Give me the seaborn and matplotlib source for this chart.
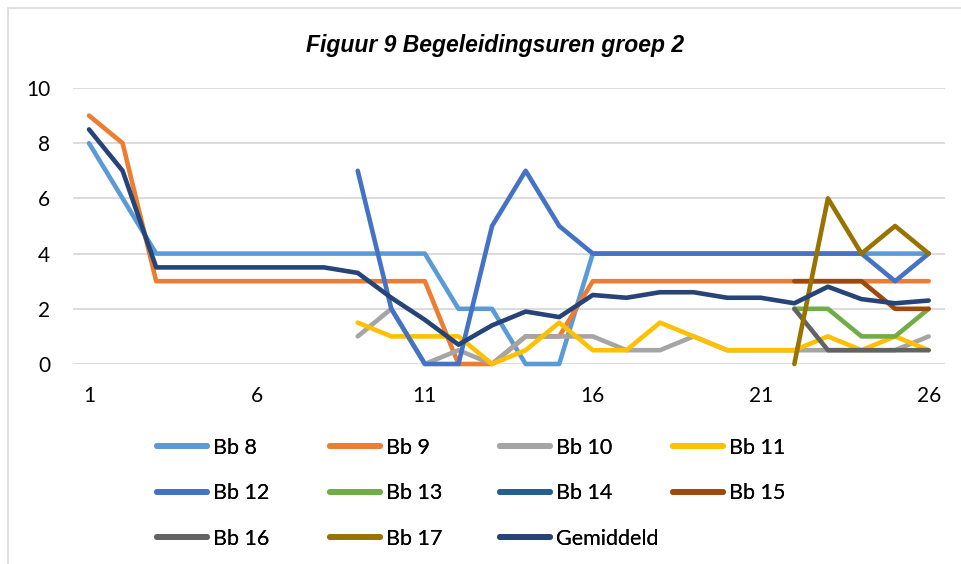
import numpy as np
import pandas as pd
import seaborn as sns
import matplotlib.pyplot as plt
from matplotlib.lines import Line2D

nan = np.nan
weeks = list(range(1, 27))

# values per student (nan = no value)
bb8 = [8, 6, 4, 4, 4, 4, 4, 4, 4, 4, 4, 2, 2, 0, 0, 4, 4, 4, 4, 4, 4, 4, 4, 4, 4, 4]
bb9 = [9, 8, 3, 3, 3, 3, 3, 3, 3, 3, 3, 0, 0, 1, 1, 3, 3, 3, 3, 3, 3, 3, 3, 3, 3, 3]
bb10 = [nan] * 8 + [1, 2, 0, 0.5, 0, 1, 1, 1, 0.5, 0.5, 1, 0.5, 0.5, 0.5, 0.5, 0.5, 0.5, 1]
bb11 = [nan] * 8 + [1.5, 1, 1, 1, 0, 0.5, 1.5, 0.5, 0.5, 1.5, 1, 0.5, 0.5, 0.5, 1, 0.5, 1, 0.5]
bb12 = [nan] * 8 + [7, 2, 0, 0, 5, 7, 5, 4, 4, 4, 4, 4, 4, 4, 4, 4, 3, 4]
bb13 = [nan] * 21 + [2, 2, 1, 1, 2]
bb14 = [nan] * 26
bb15 = [nan] * 21 + [3, 3, 3, 2, 2]
bb16 = [nan] * 21 + [2, 0.5, 0.5, 0.5, 0.5]
bb17 = [nan] * 21 + [0, 6, 4, 5, 4]
gemiddeld = [8.5, 7, 3.5, 3.5, 3.5, 3.5, 3.5, 3.5, 3.3, 2.4, 1.6, 0.7, 1.4, 1.9, 1.7,
             2.5, 2.4, 2.6, 2.6, 2.4, 2.4, 2.2, 2.8, 2.35, 2.2, 2.3]

names = ['Bb 8', 'Bb 9', 'Bb 10', 'Bb 11', 'Bb 12', 'Bb 13', 'Bb 14', 'Bb 15',
         'Bb 16', 'Bb 17', 'Gemiddeld']
colors = ['#5B9BD5', '#ED7D31', '#A5A5A5', '#FFC000', '#4472C4', '#70AD47',
          '#255E91', '#9E480E', '#636363', '#997300', '#264478']

wide = pd.DataFrame({'week': weeks, 'Bb 8': bb8, 'Bb 9': bb9, 'Bb 10': bb10,
                     'Bb 11': bb11, 'Bb 12': bb12, 'Bb 13': bb13, 'Bb 14': bb14,
                     'Bb 15': bb15, 'Bb 16': bb16, 'Bb 17': bb17,
                     'Gemiddeld': gemiddeld})
df = wide.melt(id_vars='week', var_name='reeks', value_name='uren').dropna()

sns.set_style('white')
plt.rcParams['font.family'] = ['Lato', 'DejaVu Sans']
plt.rcParams['text.color'] = 'black'

fig = plt.figure(figsize=(9.61, 5.64), dpi=100)
ax = fig.add_axes([0.076, 0.3546, 0.907, 0.4894])

palette = dict(zip(names, colors))
for name in names:
    sub = df[df['reeks'] == name]
    if sub.empty:
        continue
    sns.lineplot(data=sub, x='week', y='uren', color=palette[name],
                 linewidth=3.3, ax=ax, legend=False, solid_capstyle='round',
                 solid_joinstyle='round', clip_on=False)

ax.set_xlim(0.524, 26.476)
ax.set_ylim(0, 10)
ax.set_xticks([1, 6, 11, 16, 21, 26])
ax.set_yticks([0, 2, 4, 6, 8, 10])
ax.set_xlabel('')
ax.set_ylabel('')
ax.grid(axis='y', color='#D9D9D9', lw=1.3)
ax.set_axisbelow(True)
sns.despine(ax=ax, left=True, bottom=True)
ax.tick_params(axis='y', length=0, pad=16.5, labelsize=15, colors='black')
ax.tick_params(axis='x', length=0, pad=16, labelsize=15, colors='black')

fig.text(0.515, 0.92, 'Figuur 9 Begeleidingsuren groep 2', ha='center',
         va='center', fontsize=16.5, fontweight='bold', fontstyle='italic',
         color='black', family=['Liberation Sans', 'DejaVu Sans'])

# legend, one block per column so the columns sit where they do in the chart
col_x = [157, 330, 500, 673]
columns = [[0, 4, 8], [1, 5, 9], [2, 6, 10], [3, 7]]
for cx, idx in zip(col_x, columns):
    handles = [Line2D([], [], color=colors[i], lw=4.2, solid_capstyle='round')
               for i in idx]
    leg = fig.legend(handles, [names[i] for i in idx], loc='upper left',
                     bbox_to_anchor=(cx / 961, 1 - 438 / 564), frameon=False,
                     fontsize=15.5, handlelength=2.33, handletextpad=0.28,
                     labelspacing=1.18, borderpad=0, borderaxespad=0,
                     labelcolor='black')
    fig.add_artist(leg)

# light frame around the chart
fig.add_artist(Line2D([8 / 961, 1], [1 - 8 / 564, 1 - 8 / 564],
                      transform=fig.transFigure, color='#D9D9D9', lw=1.2))
fig.add_artist(Line2D([8 / 961, 8 / 961], [0, 1 - 8 / 564],
                      transform=fig.transFigure, color='#D9D9D9', lw=1.2))

fig.savefig('out.png', dpi=100)
